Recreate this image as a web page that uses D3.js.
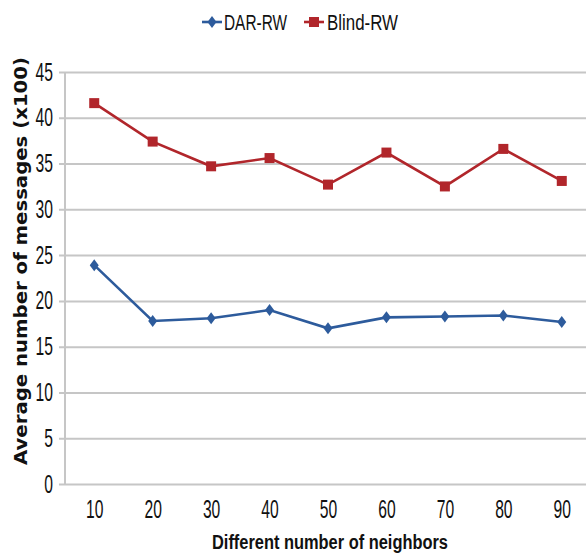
<!DOCTYPE html>
<html>
<head>
<meta charset="utf-8">
<script src="https://cdn.jsdelivr.net/npm/d3@7"></script>
<style>
  body { margin: 0; background: #fff; }
  svg { display: block; }
</style>
</head>
<body>
<div id="viz"></div>
<script>
const width = 586;
const height = 555;

const neighbors = ["10", "20", "30", "40", "50", "60", "70", "80", "90"];
const darRW = [23.9, 17.8, 18.1, 19.0, 17.0, 18.2, 18.3, 18.4, 17.7];
const blindRW = [41.6, 37.4, 34.7, 35.6, 32.7, 36.2, 32.5, 36.6, 33.1];
const yTicks = [0, 5, 10, 15, 20, 25, 30, 35, 40, 45];

const plot = { left: 65, right: 591, top: 72, bottom: 484 };
// no Calibri here, so squeeze Liberation Sans into a narrow look
const font = "'Liberation Sans', Arial, sans-serif";
const digitW = 8.7;

const svg = d3.select("#viz")
    .append("svg")
    .attr("width", width)
    .attr("height", height);

const xScale = d3.scalePoint()
    .domain(neighbors)
    .range([plot.left, plot.right])
    .padding(0.5);

const yScale = d3.scaleLinear()
    .domain([0, 45])
    .range([plot.bottom, plot.top]);

// gridlines + y axis
const yAxis = svg.append("g")
    .attr("transform", `translate(${plot.left},0)`)
    .call(d3.axisLeft(yScale)
        .tickValues(yTicks)
        .tickSize(-(plot.right - plot.left))
        .tickSizeOuter(0)
        .tickPadding(12));
yAxis.select(".domain").remove();
yAxis.selectAll(".tick line")
    .attr("x1", -6)
    .attr("stroke", "#c6c6c6")
    .attr("stroke-width", 2);
yAxis.selectAll(".tick text")
    .attr("font-family", font)
    .attr("font-size", 25)
    .attr("fill", "#111")
    .attr("textLength", d => String(d).length * digitW)
    .attr("lengthAdjust", "spacingAndGlyphs");

// left axis line
svg.append("line")
    .attr("x1", plot.left).attr("x2", plot.left)
    .attr("y1", plot.top).attr("y2", plot.bottom)
    .attr("stroke", "#c6c6c6")
    .attr("stroke-width", 2);

// x axis
const xAxis = svg.append("g")
    .attr("transform", `translate(0,${plot.bottom})`)
    .call(d3.axisBottom(xScale).tickSize(0).tickPadding(16));
xAxis.select(".domain").remove();
xAxis.selectAll(".tick text")
    .attr("font-family", font)
    .attr("font-size", 25)
    .attr("fill", "#111")
    .attr("textLength", d => d.length * digitW)
    .attr("lengthAdjust", "spacingAndGlyphs");

// axis titles
svg.append("text")
    .attr("x", 330)
    .attr("y", 549)
    .attr("text-anchor", "middle")
    .attr("font-family", font)
    .attr("font-weight", "bold")
    .attr("font-size", 20)
    .attr("fill", "#111")
    .attr("textLength", 236)
    .attr("lengthAdjust", "spacingAndGlyphs")
    .text("Different number of neighbors");

svg.append("text")
    .attr("transform", "translate(27,261) rotate(-90)")
    .attr("text-anchor", "middle")
    .attr("font-family", "'DejaVu Sans', Verdana, sans-serif")
    .attr("font-weight", "bold")
    .attr("font-size", 18)
    .attr("fill", "#111")
    .attr("textLength", 408)
    .attr("lengthAdjust", "spacingAndGlyphs")
    .text("Average number of messages (x100)");

const series = [
    { name: "DAR-RW", values: darRW, color: "#2d5b9c", shape: "diamond", w: 63 },
    { name: "Blind-RW", values: blindRW, color: "#b1262b", shape: "square", w: 71 },
];

const line = d3.line()
    .x((d, i) => xScale(neighbors[i]))
    .y(d => yScale(d));

function marker(g, shape, color) {
    if (shape === "square") {
        g.append("rect")
            .attr("x", -5).attr("y", -5)
            .attr("width", 10).attr("height", 10)
            .attr("fill", color);
    } else {
        g.append("path")
            .attr("d", "M0,-6 L4.5,0 L0,6 L-4.5,0 Z")
            .attr("fill", color);
    }
}

series.forEach(s => {
    svg.append("path")
        .datum(s.values)
        .attr("fill", "none")
        .attr("stroke", s.color)
        .attr("stroke-width", 2.6)
        .attr("d", line);

    s.values.forEach((v, i) => {
        const g = svg.append("g")
            .attr("transform", `translate(${xScale(neighbors[i])},${yScale(v)})`);
        marker(g, s.shape, s.color);
    });
});

// legend
const legendPos = [{ x: 202, tx: 224 }, { x: 304, tx: 327 }];
series.forEach((s, i) => {
    const lg = svg.append("g");
    lg.append("line")
        .attr("x1", legendPos[i].x).attr("x2", legendPos[i].x + 20)
        .attr("y1", 22).attr("y2", 22)
        .attr("stroke", s.color)
        .attr("stroke-width", 2.6);
    const m = lg.append("g")
        .attr("transform", `translate(${legendPos[i].x + 10},22)`);
    marker(m, s.shape, s.color);
    lg.append("text")
        .attr("x", legendPos[i].tx)
        .attr("y", 30)
        .attr("font-family", font)
        .attr("font-size", 22)
        .attr("fill", "#111")
        .attr("textLength", s.w)
        .attr("lengthAdjust", "spacingAndGlyphs")
        .text(s.name);
});
</script>
</body>
</html>
